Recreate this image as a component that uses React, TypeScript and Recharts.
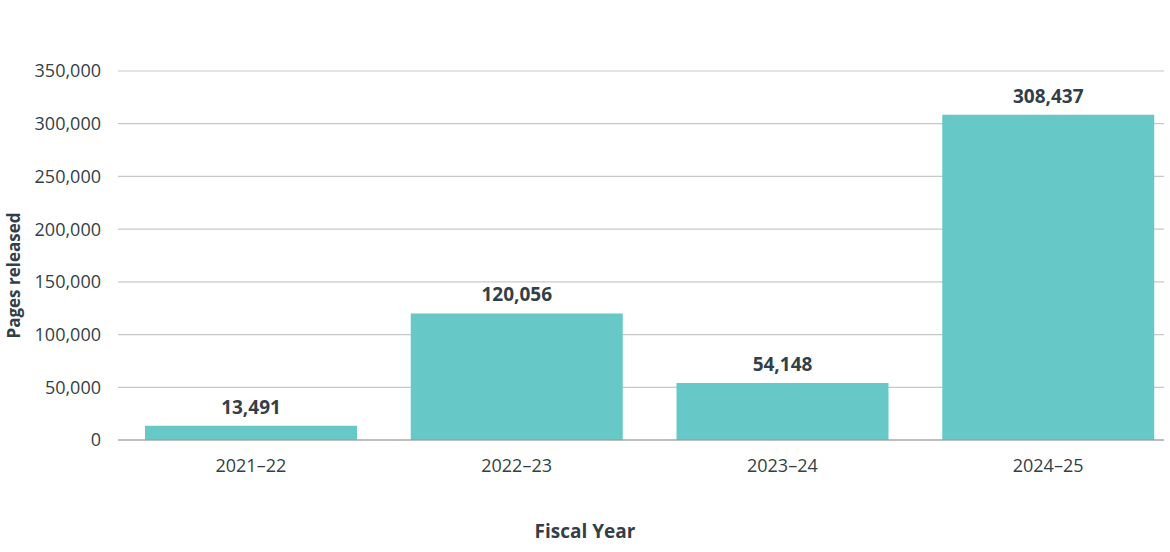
import { Bar, BarChart, CartesianGrid, LabelList, XAxis, YAxis } from "recharts";

const years = ["2021–22", "2022–23", "2023–24", "2024–25"];
const pages = [13491, 120056, 54148, 308437];
const yTicks = [0, 50000, 100000, 150000, 200000, 250000, 300000, 350000];

const data = years.map((y, i) => ({ year: y, pages: pages[i] }));

const ink = "#333f48";
const font = "'Open Sans', sans-serif";
const fmt = (v: number) => v.toLocaleString("en-US");

export default function App() {
  return (
    <div style={{ position: "absolute", left: 0, top: 0, fontFamily: font }}>
      <BarChart
        width={1170}
        height={552}
        data={data}
        margin={{ top: 71, right: 6, bottom: 0, left: 0 }}
        barSize={212}
      >
        <CartesianGrid vertical={false} stroke="#c8c8c8" strokeWidth={1.2} />
        <XAxis
          dataKey="year"
          height={112}
          padding={{ left: 0, right: -17 }}
          tickLine={false}
          tickSize={0}
          tickMargin={19}
          axisLine={{ stroke: "#9a9a9a", strokeWidth: 1.2 }}
          tick={{ fill: ink, fontSize: 18, fontFamily: font }}
          label={{
            value: "Fiscal Year",
            position: "insideBottom",
            offset: 14,
            dx: -56,
            fill: ink,
            fontSize: 19,
            fontWeight: 700,
            fontFamily: font,
          }}
        />
        <YAxis
          width={118}
          domain={[0, 350000]}
          ticks={yTicks}
          interval={0}
          tickFormatter={fmt}
          tickLine={false}
          tickSize={0}
          tickMargin={17}
          axisLine={false}
          tick={{ fill: ink, fontSize: 18, fontFamily: font }}
          label={{
            value: "Pages released",
            angle: -90,
            position: "insideLeft",
            offset: 14,
            dy: 20,
            fill: ink,
            fontSize: 17,
            fontWeight: 700,
            fontFamily: font,
            style: { textAnchor: "middle" },
          }}
        />
        <Bar dataKey="pages" fill="#66c9c7" isAnimationActive={false}>
          <LabelList
            dataKey="pages"
            position="top"
            offset={12}
            formatter={(v: number) => fmt(v)}
            fill={ink}
            fontSize={19}
            fontWeight={700}
            fontFamily={font}
          />
        </Bar>
      </BarChart>
    </div>
  );
}
